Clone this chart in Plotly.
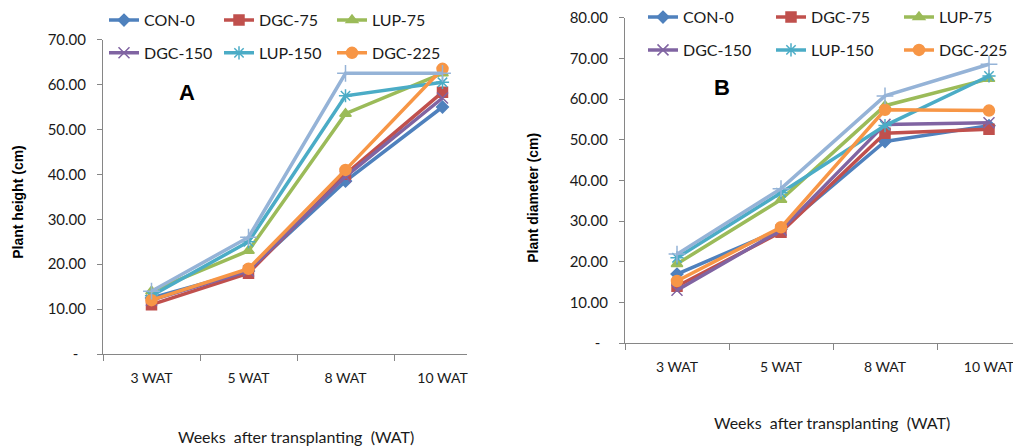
import plotly.graph_objects as go

categories = ["3 WAT", "5 WAT", "8 WAT", "10 WAT"]
series_names = ["CON-0", "DGC-75", "LUP-75", "DGC-150", "LUP-150", "DGC-225", "LUP-225"]

# Panel A: plant height (cm)
height_con0 = [12.5, 18.5, 38.5, 55.0]
height_dgc75 = [11.0, 18.0, 40.0, 58.3]
height_lup75 = [14.0, 23.0, 53.5, 62.5]
height_dgc150 = [12.0, 18.5, 39.5, 57.0]
height_lup150 = [13.0, 25.0, 57.5, 60.5]
height_dgc225 = [12.0, 19.0, 41.0, 63.5]
height_lup225 = [14.0, 26.0, 62.5, 62.5]

# Panel B: plant diameter (cm)
diam_con0 = [17.0, 28.0, 49.6, 53.5]
diam_dgc75 = [14.0, 27.3, 51.6, 52.6]
diam_lup75 = [19.5, 35.3, 58.4, 65.0]
diam_dgc150 = [13.0, 27.8, 53.8, 54.2]
diam_lup150 = [21.0, 37.0, 53.5, 65.7]
diam_dgc225 = [15.3, 28.5, 57.4, 57.2]
diam_lup225 = [21.9, 38.0, 60.8, 68.6]

height_ticks = [0, 10, 20, 30, 40, 50, 60, 70]
diam_ticks = [0, 10, 20, 30, 40, 50, 60, 70, 80]

colors = ["#4F81BD", "#C0504D", "#9BBB59", "#8064A2", "#4BACC6", "#F79646", "#95B3D7"]
symbols = ["diamond", "square", "triangle-up", "x-thin-open", "asterisk-open", "circle", "cross-thin-open"]
msizes = [9, 10, 10, 11, 11, 11, 12]

height_data = [height_con0, height_dgc75, height_lup75, height_dgc150, height_lup150, height_dgc225, height_lup225]
diam_data = [diam_con0, diam_dgc75, diam_lup75, diam_dgc150, diam_lup150, diam_dgc225, diam_lup225]

W, H = 1013, 448
fig = go.Figure()

def tick_text(vals):
    return ["-\u00a0\u00a0" if v == 0 else f"{v:.2f}" for v in vals]

# legend columns: series i goes to column i % 3
left_legends = ["legend", "legend2", "legend3"]
right_legends = ["legend4", "legend5", "legend6"]

for i, name in enumerate(series_names):
    shown = i < 6
    mk = dict(symbol=symbols[i], size=msizes[i], color=colors[i],
              line=dict(color=colors[i], width=1.5))
    fig.add_trace(go.Scatter(x=categories, y=height_data[i], name=name, mode="lines+markers",
                             line=dict(color=colors[i], width=3.5), marker=mk,
                             xaxis="x", yaxis="y", showlegend=shown,
                             legend=left_legends[i % 3], legendgroup=f"a{i}"))
    fig.add_trace(go.Scatter(x=categories, y=diam_data[i], name=name, mode="lines+markers",
                             line=dict(color=colors[i], width=3.5), marker=mk,
                             xaxis="x2", yaxis="y2", showlegend=shown,
                             legend=right_legends[i % 3], legendgroup=f"b{i}"))

axis_common = dict(showgrid=False, zeroline=False, showline=True, linecolor="#868686",
                   linewidth=1, ticks="outside", tickcolor="#868686", automargin=False,
                   tickfont=dict(family="Lato", size=15, color="#1a1a1a"))
xfont = dict(family="Lato", size=14, color="#1a1a1a")

def px_x(p):
    return p / W

def px_y(p):
    return 1 - p / H

fig.update_layout(
    width=W, height=H, autosize=False,
    margin=dict(l=0, r=0, t=0, b=0, pad=0),
    paper_bgcolor="white", plot_bgcolor="white",
    xaxis=dict(axis_common, type="category", domain=[px_x(103), px_x(467)],
               range=[-0.5, -0.5 + 364 / 97], tickson="boundaries", ticklen=6,
               ticklabelstandoff=11, anchor="y", tickfont=xfont),
    yaxis=dict(axis_common, domain=[px_y(353), px_y(35)], range=[0, 70],
               tickvals=height_ticks, ticktext=tick_text(height_ticks), ticklen=5,
               ticklabelstandoff=8, anchor="x"),
    xaxis2=dict(axis_common, type="category", domain=[px_x(625), 1.0],
                range=[-0.5, -0.5 + 388 / 104], tickson="boundaries", ticklen=6,
                ticklabelstandoff=11, anchor="y2", tickfont=xfont),
    yaxis2=dict(axis_common, domain=[px_y(342), px_y(13)], range=[0, 80],
                tickvals=diam_ticks, ticktext=tick_text(diam_ticks), ticklen=5,
                ticklabelstandoff=8, anchor="x2"),
)

leg_common = dict(orientation="v", xanchor="left", yanchor="middle", bgcolor="rgba(0,0,0,0)",
                  font=dict(family="Lato", size=16, color="#1a1a1a"),
                  itemwidth=30, tracegroupgap=9)
left_x = [104, 219, 332]
right_x = [643, 771, 899]
layout_leg = {}
for k in range(3):
    layout_leg[left_legends[k]] = dict(leg_common, x=px_x(left_x[k]), y=px_y(32))
    layout_leg[right_legends[k]] = dict(leg_common, x=px_x(right_x[k]), y=px_y(29))
fig.update_layout(**layout_leg)

annots = [
    dict(text="<b>A</b>", x=px_x(187), y=px_y(88), font=dict(family="Liberation Sans", size=22, color="black")),
    dict(text="<b>B</b>", x=px_x(722), y=px_y(83), font=dict(family="Liberation Sans", size=22, color="black")),
    dict(text="Weeks  after transplanting  (WAT)", x=px_x(296), y=px_y(436),
         font=dict(family="Lato", size=16, color="#1a1a1a")),
    dict(text="Weeks  after transplanting  (WAT)", x=px_x(832), y=px_y(422),
         font=dict(family="Lato", size=16, color="#1a1a1a")),
    dict(text="<b>Plant height (cm)</b>", x=px_x(18), y=px_y(199), textangle=-90,
         font=dict(family="Liberation Sans", size=14, color="black")),
    dict(text="<b>Plant diameter (cm)</b>", x=px_x(533), y=px_y(195), textangle=-90,
         font=dict(family="Liberation Sans", size=14, color="black")),
]
for a in annots:
    fig.add_annotation(xref="paper", yref="paper", showarrow=False,
                       xanchor="center", yanchor="middle", **a)

post = "document.body.style.margin='0';document.body.style.overflow='hidden';"
fig.write_html("out.html", config={"displayModeBar": False}, post_script=post)
